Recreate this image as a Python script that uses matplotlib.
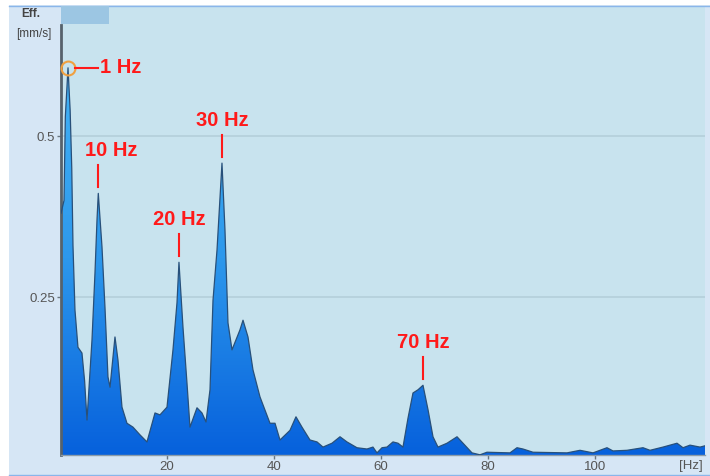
import numpy as np
import matplotlib
matplotlib.use("Agg")
import matplotlib.pyplot as plt
import matplotlib.transforms as mtransforms
from matplotlib.patches import Rectangle
from matplotlib.lines import Line2D
from matplotlib.colors import LinearSegmentedColormap

# Velocity spectrum (effective value) versus frequency
freq_hz = [0.19, 0.75, 1.0, 1.5, 1.9, 2.2, 2.43, 2.8, 3.36, 4.11, 4.6, 5.05,
           5.98, 6.54, 6.92, 7.16, 7.85, 8.41, 8.97, 9.35, 10.28, 10.84, 11.59,
           12.52, 13.64, 14.95, 16.26, 17.76, 18.69, 20.0, 21.12, 21.87, 22.24,
           22.99, 23.74, 24.30, 25.61, 26.54, 27.29, 28.04, 28.6, 29.35, 30.28,
           30.84, 31.4, 32.15, 33.64, 34.21, 35.14, 36.07, 37.38, 39.25, 40.19,
           41.12, 42.99, 44.11, 45.23, 46.73, 48.04, 49.16, 50.84, 52.34, 53.64,
           55.51, 57.38, 58.5, 59.25, 60.19, 61.12, 62.24, 63.18, 64.11, 65.05,
           65.98, 66.92, 67.85, 68.79, 69.72, 70.65, 72.34, 74.21, 75.33, 77.01,
           78.5, 79.81, 84.11, 85.42, 86.54, 88.41, 94.77, 97.2, 99.63, 102.24,
           103.36, 105.98, 108.97, 110.28, 112.71, 115.33, 116.45, 117.76,
           119.63, 120.56]
eff_mm_s = [0.38, 0.40, 0.53, 0.606, 0.54, 0.45, 0.33, 0.23, 0.172, 0.163, 0.12,
            0.059, 0.183, 0.287, 0.37, 0.411, 0.328, 0.234, 0.126, 0.11, 0.188,
            0.152, 0.079, 0.054, 0.048, 0.036, 0.025, 0.07, 0.067, 0.079, 0.168,
            0.241, 0.304, 0.203, 0.116, 0.048, 0.078, 0.07, 0.056, 0.106, 0.245,
            0.323, 0.458, 0.354, 0.21, 0.168, 0.199, 0.214, 0.188, 0.137, 0.095,
            0.054, 0.054, 0.028, 0.043, 0.064, 0.048, 0.028, 0.025, 0.017, 0.023,
            0.033, 0.025, 0.016, 0.014, 0.017, 0.008, 0.016, 0.017, 0.025, 0.023,
            0.017, 0.062, 0.101, 0.106, 0.113, 0.075, 0.033, 0.017, 0.023, 0.033,
            0.023, 0.008, 0.005, 0.009, 0.008, 0.016, 0.014, 0.009, 0.008, 0.012,
            0.008, 0.016, 0.011, 0.012, 0.016, 0.012, 0.017, 0.023, 0.016, 0.02,
            0.017, 0.019]

y_ticks = [0.25, 0.5]
y_tick_labels = ["0.25", "0.5"]
x_ticks = [20, 40, 60, 80, 100]
x_tick_labels = ["20", "40", "60", "80", "100"]

peak_labels = ["1 Hz", "10 Hz", "20 Hz", "30 Hz", "70 Hz"]
peak_windows = [(0, 4), (5, 9), (20, 25), (28, 32), (64, 72)]
label_dx_px = [0, 13, 0, 0, 0]

freq = np.array(freq_hz)
eff = np.array(eff_mm_s)

W, H = 710, 476
fig = plt.figure(figsize=(W / 100, H / 100), dpi=100, facecolor="white")


def fx(px):
    return px / W


def fy(py):
    return 1 - py / H


# outer panel with thin borders
fig.add_artist(Rectangle((fx(9), fy(475)), 1 - fx(9), fy(5) - fy(475),
                         transform=fig.transFigure, facecolor="#d6e6f5",
                         edgecolor="none", zorder=0))
fig.add_artist(Line2D([fx(9), 1], [fy(5.5)] * 2, color="#8ab6ea", lw=1.0))
fig.add_artist(Line2D([fx(9), 1], [fy(474.5)] * 2, color="#8ab6ea", lw=1.0))

ax = fig.add_axes([fx(61), fy(455), fx(705) - fx(61), fy(6) - fy(455)])
ax.set_facecolor("#c8e3ee")
x0, x1 = 0.19, 120.56
y0, y1 = 0.0047, 0.702

# horizontal grid
for yt in y_ticks:
    ax.axhline(yt, color="#b2cdd8", lw=1.1, zorder=1)

# gradient-filled spectrum
cmap = LinearSegmentedColormap.from_list(
    "spec", [(0.0, "#0660dc"), (0.5, "#2d98ec"), (1.0, "#44b4f5")])
grad = np.linspace(0, 1, 256).reshape(-1, 1)
im = ax.imshow(grad, extent=(x0, x1, 0, 0.62), origin="lower", aspect="auto",
               cmap=cmap, zorder=2, interpolation="bilinear")
poly = ax.fill_between(freq, eff, 0, facecolor="none", edgecolor="none")
im.set_clip_path(poly.get_paths()[0], transform=ax.transData)
ax.plot(freq, eff, color="#28507a", lw=0.9, zorder=3)

ax.set_xlim(x0, x1)
ax.set_ylim(y0, y1)

# axes styling
for side in ("top", "right"):
    ax.spines[side].set_visible(False)
ax.spines["left"].set_color("#56626c")
ax.spines["left"].set_linewidth(2)
ax.spines["left"].set_bounds(y0, (458 - 25) / 644)
ax.spines["bottom"].set_color("#8c9ca8")
ax.spines["bottom"].set_linewidth(1)
ax.set_yticks(y_ticks)
ax.set_yticklabels(y_tick_labels)
ax.set_xticks(x_ticks)
ax.set_xticklabels(x_tick_labels)
ax.tick_params(axis="both", direction="out", length=3, width=1,
               color="#6a7680", labelcolor="#555555", labelsize=9.5, pad=1.5)
for lab in ax.get_xticklabels() + ax.get_yticklabels():
    lab.set_family(["Liberation Sans", "DejaVu Sans"])

# tab at top-left of plot area
fig.add_artist(Rectangle((fx(61), fy(24)), fx(109) - fx(61), fy(6) - fy(24),
                         transform=fig.transFigure, facecolor="#9cc6e3",
                         edgecolor="none", zorder=5))

txt_font = ["Liberation Sans", "DejaVu Sans"]
fig.text(fx(31), fy(14), "Eff.", ha="center", va="center", fontsize=8.5,
         fontweight="bold", color="#444444", family=txt_font)
fig.text(fx(34), fy(34), "[mm/s]", ha="center", va="center", fontsize=8.5,
         color="#444444", family=txt_font)
fig.text(fx(691), fy(466), "[Hz]", ha="center", va="center", fontsize=9.5,
         color="#555555", family=txt_font)

# peak annotations
red = "#ff1a1a"


def shifted(dx, dy):
    return mtransforms.offset_copy(ax.transData, fig=fig, x=dx, y=dy,
                                   units="dots")


def red_segment(pf, pv, a, b):
    p1 = shifted(*a).transform((pf, pv))
    p2 = shifted(*b).transform((pf, pv))
    fig.add_artist(Line2D([p1[0] / W, p2[0] / W], [p1[1] / H, p2[1] / H],
                          transform=fig.transFigure, color=red, lw=1.5,
                          zorder=7))


for i, (label, (lo, hi)) in enumerate(zip(peak_labels, peak_windows)):
    sel = np.where((freq >= lo) & (freq <= hi))[0]
    k = sel[np.argmax(eff[sel])]
    pf, pv = freq[k], eff[k]
    if i == 0:
        ax.plot([pf], [pv], marker="o", ms=10, mfc="none", mec="#f0a040",
                mew=1.5, zorder=6, clip_on=False)
        red_segment(pf, pv, (7, 0), (30, 0))
        ax.text(pf, pv, label, transform=shifted(32, 0), ha="left",
                va="center", fontsize=14.5, fontweight="bold", color=red,
                family=txt_font, zorder=7)
    else:
        red_segment(pf, pv, (0, 6), (0, 28))
        ax.text(pf, pv, label, transform=shifted(label_dx_px[i], 43),
                ha="center", va="center", fontsize=14.5, fontweight="bold",
                color=red, family=txt_font, zorder=7)

fig.savefig("out.png", dpi=100, facecolor="white")
